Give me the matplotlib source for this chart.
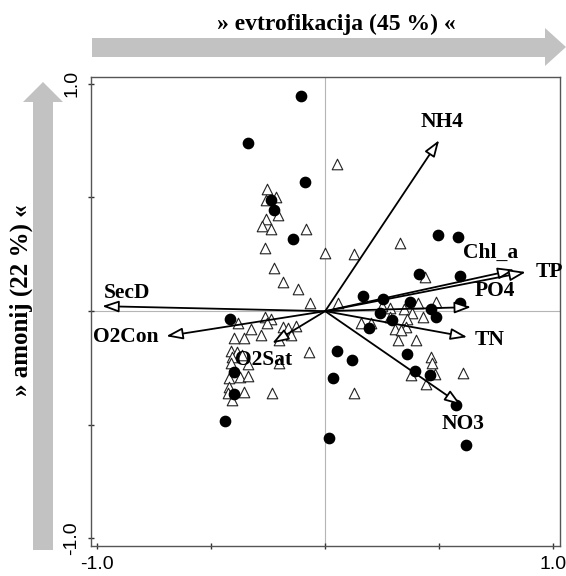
import matplotlib

matplotlib.use("Agg")
import matplotlib.pyplot as plt
from matplotlib.patches import Polygon

# Site scores: filled circles
CIRCLE_X = [-0.105, -0.338, -0.088, -0.237, -0.224, -0.140, -0.417, -0.399, -0.399, -0.439,
            0.053, 0.035, 0.496, 0.583, 0.412, 0.592, 0.167, 0.254, 0.373, 0.592,
            0.241, 0.465, 0.487, 0.294, 0.193, 0.118, 0.360, 0.395, 0.461, 0.575,
            0.018, 0.618]
CIRCLE_Y = [0.945, 0.738, 0.567, 0.488, 0.444, 0.316, -0.035, -0.268, -0.365, -0.484,
            -0.176, -0.295, 0.334, 0.325, 0.163, 0.154, 0.066, 0.053, 0.040, 0.035,
            -0.009, 0.009, -0.026, -0.040, -0.075, -0.215, -0.189, -0.264, -0.281, -0.413,
            -0.558, -0.589]

# Site scores: open triangles
TRI_X = [-0.254, -0.215, -0.259, -0.206, -0.259, -0.276, -0.237, -0.083, -0.263, -0.224,
         -0.184, -0.118, -0.066, 0.000, 0.053, -0.382, -0.325, -0.263, -0.237, -0.254,
         -0.281, -0.399, -0.355, -0.184, -0.162, -0.127, -0.149, -0.202, -0.412, -0.386,
         -0.408, -0.364, -0.412, -0.338, -0.070, -0.421, -0.373, -0.338, -0.421, -0.408,
         -0.355, -0.232, -0.425, -0.202, 0.329, 0.127, 0.439, 0.057, 0.285, 0.408,
         0.346, 0.382, 0.487, 0.430, 0.158, 0.202, 0.360, 0.355, 0.307, 0.333,
         0.320, 0.399, 0.285, 0.465, 0.469, 0.377, 0.482, 0.443, 0.605, 0.127,
         0.250]
TRI_Y = [0.536, 0.501, 0.488, 0.422, 0.404, 0.374, 0.360, 0.360, 0.277, 0.189,
         0.127, 0.097, 0.035, 0.256, 0.646, -0.053, -0.079, -0.026, -0.035, -0.053,
         -0.105, -0.119, -0.119, -0.070, -0.075, -0.066, -0.105, -0.127, -0.176, -0.180,
         -0.202, -0.193, -0.229, -0.233, -0.180, -0.295, -0.290, -0.286, -0.334, -0.391,
         -0.356, -0.360, -0.360, -0.229, 0.299, 0.251, 0.149, 0.035, 0.013, 0.035,
         0.009, -0.009, 0.040, -0.026, -0.053, -0.053, -0.035, -0.070, -0.079, -0.084,
         -0.127, -0.127, -0.026, -0.202, -0.229, -0.281, -0.277, -0.321, -0.273, -0.360,
         0.022]

# Environmental variables (arrow tips and label centres)
VARS = ["NH4", "Chl_a", "TP", "PO4", "TN", "NO3", "SecD", "O2Con", "O2Sat"]
VAR_X = [0.500, 0.830, 0.880, 0.640, 0.623, 0.596, -0.978, -0.697, -0.232]
VAR_Y = [0.752, 0.182, 0.172, 0.018, -0.114, -0.413, 0.022, -0.110, -0.141]
LABEL_X = [0.513, 0.724, 0.985, 0.745, 0.723, 0.603, -0.870, -0.875, -0.272]
LABEL_Y = [0.831, 0.255, 0.171, 0.088, -0.127, -0.497, 0.079, -0.114, -0.215]

TITLE_X = "» evtrofikacija (45 %) «"
TITLE_Y = "» amonij (22 %) «"

SERIF = ["Liberation Serif", "DejaVu Serif"]
SANS = ["Liberation Sans", "DejaVu Sans"]
ARROW_GREY = "#c2c2c2"
W, H = 566, 576


def main():
    fig = plt.figure(figsize=(W / 100, H / 100), dpi=100)
    fig.patch.set_facecolor("white")

    # decorative grey axis arrows (pixel space overlay)
    deco = fig.add_axes([0, 0, 1, 1])
    deco.set_xlim(0, W)
    deco.set_ylim(H, 0)
    deco.axis("off")
    top = [(92, 38), (545, 38), (545, 28), (566, 47), (545, 66), (545, 57), (92, 57)]
    left = [(33, 550), (33, 102), (23, 102), (43, 82), (63, 102), (53, 102), (53, 550)]
    deco.add_patch(Polygon(top, closed=True, color=ARROW_GREY, lw=0))
    deco.add_patch(Polygon(left, closed=True, color=ARROW_GREY, lw=0))
    deco.text(336, 24, TITLE_X, ha="center", va="center", fontsize=17,
              fontweight="bold", family=SERIF)
    deco.text(21, 300, TITLE_Y, ha="center", va="center", rotation=90,
              fontsize=18, fontweight="bold", family=SERIF)

    ax = fig.add_axes([91 / W, 30 / H, 469 / W, 469 / H])
    ax.set_xlim(-1.027, 1.03)
    ax.set_ylim(-1.033, 1.03)

    ax.axhline(0, color="#b5b5b5", lw=0.8, zorder=1)
    ax.axvline(0, color="#b5b5b5", lw=0.8, zorder=1)

    ax.scatter(TRI_X, TRI_Y, marker="^", s=58, facecolors="white",
               edgecolors="#222222", linewidths=0.8, zorder=3)
    ax.scatter(CIRCLE_X, CIRCLE_Y, marker="o", s=55, color="black", zorder=4)

    for name, x, y, lx, ly in zip(VARS, VAR_X, VAR_Y, LABEL_X, LABEL_Y):
        ax.annotate("", xy=(x, y), xytext=(0, 0),
                    arrowprops=dict(arrowstyle="-|>,head_length=1.0,head_width=0.35",
                                    fc="white", ec="black", lw=1.3,
                                    shrinkA=0, shrinkB=0),
                    zorder=5)
        ax.text(lx, ly, name, ha="center", va="center", fontsize=15.5,
                fontweight="bold", family=SERIF, zorder=6)

    ticks = [-1.0, -0.5, 0.0, 0.5, 1.0]
    labels = ["-1.0", "", "", "", "1.0"]
    ax.set_xticks(ticks)
    ax.set_xticklabels(labels, family=SANS, fontsize=14)
    ax.set_yticks(ticks)
    ax.set_yticklabels(labels, family=SANS, fontsize=14,
                       rotation=90, va="center")
    ax.tick_params(direction="inout", length=5, width=1, color="#333333", pad=5)
    for spine in ax.spines.values():
        spine.set_color("#555555")
        spine.set_linewidth(1.0)

    fig.savefig("out.png", dpi=100, facecolor="white")


if __name__ == "__main__":
    main()
